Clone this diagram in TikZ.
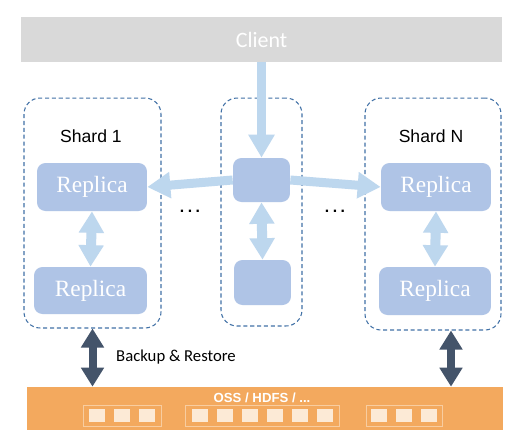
\documentclass[tikz,border=0pt]{standalone}
\usepackage{fontspec}
\setmainfont{Liberation Sans}
\newfontfamily\calibrifont{Carlito}
\newfontfamily\replfont{Liberation Serif}
\usetikzlibrary{arrows.meta}

\definecolor{clientgris}{RGB}{217,217,217}
\definecolor{cadre}{RGB}{65,113,166}
\definecolor{replique}{RGB}{175,196,230}
\definecolor{flechebleu}{RGB}{189,215,238}
\definecolor{sombre}{RGB}{68,84,106}
\definecolor{stockage}{RGB}{243,169,94}
\definecolor{bloc}{RGB}{252,234,214}

\tikzset{
  shardbox/.style={draw=cadre, line width=0.6pt, dash pattern=on 2.3pt off 1.6pt, rounded corners=0.32cm},
  replica/.style={fill=replique, rounded corners=0.17cm, minimum width=2.2cm, minimum height=0.96cm,
    text=white, font=\replfont\fontsize{13.3}{13.3}\selectfont},
  proxy/.style={fill=replique, rounded corners=0.17cm, minimum width=1.14cm, minimum height=0.88cm},
  bluearrow/.style={draw=flechebleu, line width=0.18cm, -{Triangle[width=0.5cm,length=0.46cm]}},
  bluedouble/.style={draw=flechebleu, line width=0.2cm,
    {Triangle[width=0.48cm,length=0.43cm]}-{Triangle[width=0.48cm,length=0.43cm]}},
  darkdouble/.style={draw=sombre, line width=0.16cm,
    {Triangle[width=0.44cm,length=0.38cm]}-{Triangle[width=0.44cm,length=0.38cm]}},
  carre/.style={fill=bloc, minimum width=0.31cm, minimum height=0.27cm, inner sep=0pt},
  groupe/.style={draw=bloc!55!stockage, line width=0.5pt, inner sep=0pt, minimum height=0.42cm}
}

\begin{document}
\begin{tikzpicture}[x=0.02cm, y=-0.02cm]

\useasboundingbox (0,0) rectangle (517,440);
\fill[white] (0,0) rectangle (517,440);

% Client
\node[fill=clientgris, minimum width=9.62cm, minimum height=0.9cm, text=white,
  font=\calibrifont\fontsize{12.5}{12.5}\selectfont]
  (client) at (261.5,39.5) {Client};

% Shards
\node[shardbox, minimum width=2.74cm, minimum height=4.6cm] (shard1) at (92.5,213) {};
\node[shardbox, minimum width=1.62cm, minimum height=4.56cm] (proxys) at (261.5,212) {};
\node[shardbox, minimum width=2.72cm, minimum height=4.64cm] (shardN) at (433,214) {};

\node[font=\fontsize{10}{10}\selectfont] (lab1) at (91,136) {Shard 1};
\node[font=\fontsize{10}{10}\selectfont] (labN) at (431,136) {Shard N};

% Replicas
\node[replica] (rep1a) at (92,187) {Replica};
\node[replica, minimum width=2.26cm, minimum height=0.94cm] (rep1b) at (90.5,290.5) {Replica};
\node[replica] (repNa) at (436,187) {Replica};
\node[replica, minimum width=2.24cm] (repNb) at (435,291) {Replica};
\node[proxy] (pxa) at (261.5,180) {};
\node[proxy, minimum height=0.9cm] (pxb) at (262.5,282.5) {};

% Points de suspension
\node[font=\bfseries\fontsize{9}{9}\selectfont] (dots1) at (190,211) {.\hspace{2pt}.\hspace{2pt}.};
\node[font=\bfseries\fontsize{9}{9}\selectfont] (dots2) at (335,211) {.\hspace{2pt}.\hspace{2pt}.};

% Flèches
\draw[bluearrow] (client.south -| pxa.north) -- (pxa.north);
\draw[bluearrow] (pxa.west) -- (rep1a.east);
\draw[bluearrow] (pxa.east) -- (repNa.west);
\draw[bluedouble] (rep1a.south) -- (rep1b.north);
\draw[bluedouble] (pxa.south) -- (pxb.north);
\draw[bluedouble] (repNa.south) -- (repNb.north);

% Stockage
\node[fill=stockage, minimum width=9.52cm, minimum height=0.86cm] (storage) at (265,408.5) {};
\node[text=white, font=\bfseries\fontsize{7.5}{7.5}\selectfont] (oss) at (262,398) {OSS / HDFS / ...};

\node[groupe, minimum width=1.56cm] (g1) at (122,415.5) {};
\node[groupe, minimum width=3.08cm] (g2) at (262,415.5) {};
\node[groupe, minimum width=1.52cm] (g3) at (404,415.5) {};
\foreach \x in {97,122,147,379,404,429}
  \node[carre] at (\x,415.5) {};
\foreach \x in {200,225,250,275,300,325}
  \node[carre] at (\x,415.5) {};

% Backup & Restore
\coordinate (basN) at ([xshift=0.36cm]shardN.south);
\draw[darkdouble] (shard1.south) -- (shard1.south |- storage.north);
\draw[darkdouble] (basN) -- (basN |- storage.north);
\node[anchor=west, font=\calibrifont\fontsize{9.5}{9.5}\selectfont] (backup) at (110,357) {Backup \& Restore};

\end{tikzpicture}
\end{document}
